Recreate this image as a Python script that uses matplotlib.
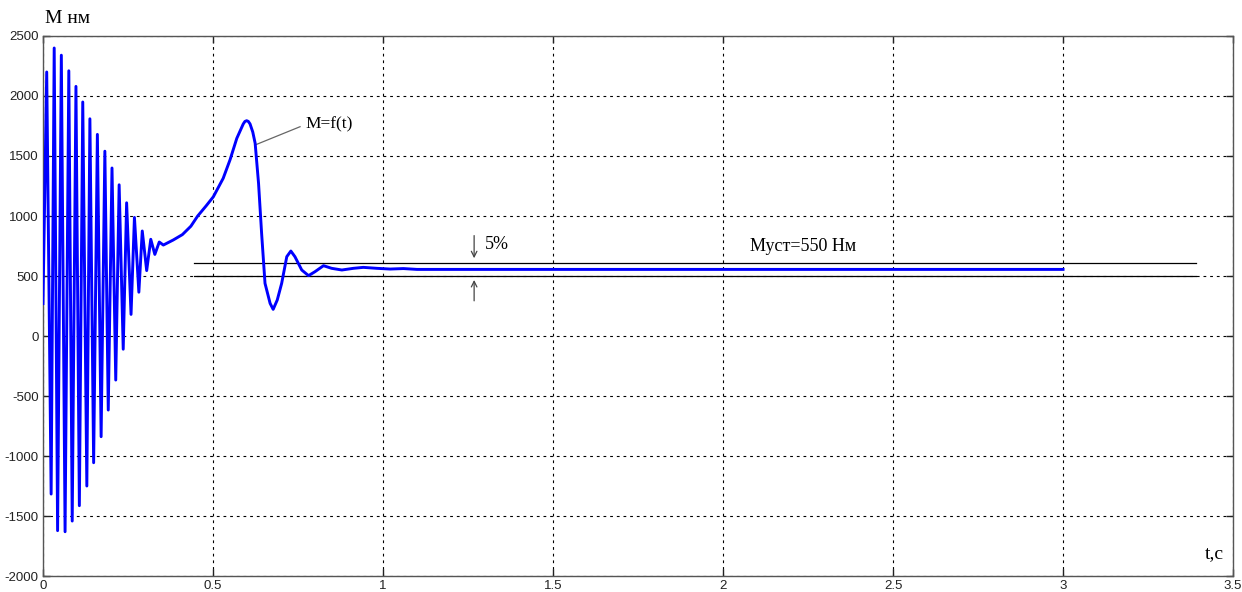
import matplotlib
matplotlib.use('Agg')
import matplotlib.pyplot as plt

# Момент двигуна при пуску: t, с -> M, Нм
t_vals = [0.000, 0.011, 0.024, 0.033, 0.043, 0.054, 0.065, 0.076, 0.086, 0.097,
          0.107, 0.117, 0.129, 0.138, 0.149, 0.160, 0.171, 0.182, 0.192, 0.203,
          0.214, 0.224, 0.236, 0.246, 0.259, 0.269, 0.282, 0.292, 0.305, 0.317,
          0.329, 0.342, 0.354, 0.383, 0.410, 0.435, 0.455, 0.480, 0.501, 0.530,
          0.550, 0.570, 0.589, 0.594, 0.599, 0.604, 0.609, 0.617, 0.624, 0.634,
          0.643, 0.653, 0.668, 0.677, 0.689, 0.702, 0.717, 0.729, 0.741, 0.761,
          0.781, 0.800, 0.825, 0.849, 0.879, 0.913, 0.942, 0.982, 1.021, 1.060,
          1.100, 3.000]
m_vals = [270, 2200, -1317, 2400, -1622, 2340, -1631, 2210, -1542, 2080,
          -1414, 1950, -1250, 1810, -1056, 1680, -839, 1540, -617, 1400,
          -367, 1260, -110, 1110, 180, 988, 365, 875, 545, 806,
          680, 783, 758, 800, 845, 915, 1000, 1085, 1160, 1314,
          1467, 1647, 1767, 1788, 1794, 1788, 1767, 1700, 1606, 1272,
          856, 439, 272, 222, 300, 439, 661, 708, 661, 550,
          503, 536, 586, 564, 550, 564, 572, 564, 558, 562,
          555, 555]

m_set = 550          # усталений момент
band_hi = 605        # межі зони 5%
band_lo = 500
band_t = [0.445, 3.39]

x_ticks = [0, 0.5, 1, 1.5, 2, 2.5, 3, 3.5]
y_ticks = [-2000, -1500, -1000, -500, 0, 500, 1000, 1500, 2000, 2500]

serif = ['Liberation Serif', 'DejaVu Serif']
plt.rcParams['font.family'] = ['Liberation Sans', 'DejaVu Sans']
plt.rcParams['axes.unicode_minus'] = False

fig = plt.figure(figsize=(12.42, 5.92), dpi=100)
ax = fig.add_axes([0.0346, 0.027, 0.9582, 0.9122])

ax.plot(t_vals, m_vals, color='#0000ff', lw=2.1, solid_joinstyle='round', zorder=3)

# зона 5% навколо усталеного значення
ax.plot(band_t, [band_hi, band_hi], color='black', lw=0.9, zorder=2)
ax.plot(band_t, [band_lo, band_lo], color='black', lw=0.9, zorder=2)

ax.set_xlim(0, 3.5)
ax.set_ylim(-2000, 2500)
ax.set_xticks(x_ticks)
ax.set_xticklabels(['0', '0.5', '1', '1.5', '2', '2.5', '3', '3.5'])
ax.set_yticks(y_ticks)
ax.tick_params(direction='in', length=5, width=1, labelsize=9.5, pad=3,
               top=True, right=True, colors='#222222')
ax.grid(True, color='black', linestyle=(0, (2.5, 3.5)), lw=0.8)
for s in ax.spines.values():
    s.set_color('#555555')
    s.set_linewidth(1.0)

# стрілки 5%
ax.annotate('', xy=(1.268, band_hi + 20), xytext=(1.268, 860),
            arrowprops=dict(arrowstyle='->', color='#444444', lw=0.9))
ax.annotate('', xy=(1.268, band_lo - 10), xytext=(1.268, 270),
            arrowprops=dict(arrowstyle='->', color='#444444', lw=0.9))
ax.text(1.30, 760, '5%', family=serif, fontsize=13, va='center', ha='left')

ax.text(2.079, 745, 'Муст=%d Нм' % m_set, family=serif, fontsize=13,
        va='center', ha='left')

# підпис кривої
ax.plot([0.756, 0.624], [1744, 1592], color='#666666', lw=0.9)
ax.text(0.772, 1760, 'M=f(t)', family=serif, fontsize=12.5, va='center', ha='left')

ax.text(3.473, -1810, 't,c', family=serif, fontsize=14, va='center', ha='right')
fig.text(0.0365, 0.968, 'M нм', family=serif, fontsize=14, va='center', ha='left')

fig.savefig('out.png', dpi=100)
plt.close(fig)
